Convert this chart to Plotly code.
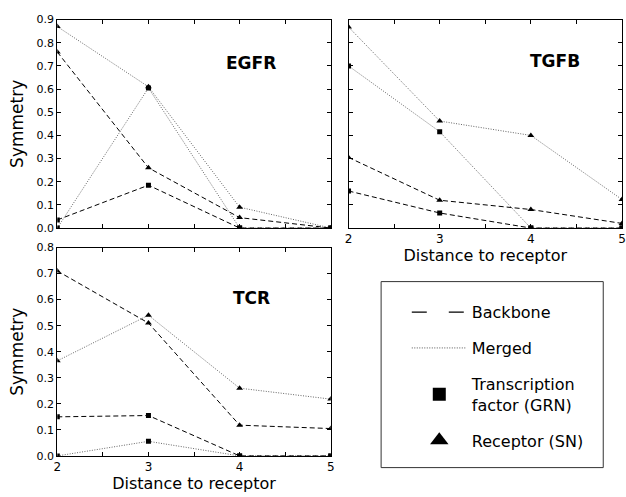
import plotly.graph_objects as go

# ---------------- data ----------------
distance = [2, 3, 4, 5]

egfr_backbone_receptor = [0.76, 0.26, 0.045, 0.0]
egfr_backbone_tf = [0.035, 0.185, 0.0, 0.0]
egfr_merged_receptor = [0.87, 0.61, 0.09, 0.0]
egfr_merged_tf = [0.0, 0.605, 0.0, 0.0]

tgfb_backbone_receptor = [0.305, 0.12, 0.08, 0.02]
tgfb_backbone_tf = [0.16, 0.065, 0.0, 0.0]
tgfb_merged_receptor = [0.868, 0.462, 0.40, 0.123]
tgfb_merged_tf = [0.70, 0.416, 0.0, 0.0]

tcr_backbone_receptor = [0.71, 0.51, 0.118, 0.105]
tcr_backbone_tf = [0.15, 0.155, 0.0, 0.0]
tcr_merged_receptor = [0.365, 0.54, 0.26, 0.218]
tcr_merged_tf = [0.0, 0.056, 0.0, 0.0]

x_tick_vals = [2, 2.5, 3, 3.5, 4, 4.5, 5]
x_tick_text = ["2", "", "3", "", "4", "", "5"]
y_tick_vals_09 = [0, 0.1, 0.2, 0.3, 0.4, 0.5, 0.6, 0.7, 0.8, 0.9]
y_tick_vals_08 = [0, 0.1, 0.2, 0.3, 0.4, 0.5, 0.6, 0.7, 0.8]

panel_names = ["EGFR", "TGFB", "TCR"]
legend_labels = ["Backbone", "Merged", "Transcription<br>factor (GRN)", "Receptor (SN)"]

# ---------------- styles ----------------
FONT = "DejaVu Sans"
W, H = 626, 497
DASH_STYLE = dict(color="black", width=1, dash="5px,3px")
DOT_STYLE = dict(color="#666666", width=1, dash="1px,1.5px")
SQ = dict(symbol="square", size=5, color="black")
TRI = dict(symbol="triangle-up", size=6, color="black")

fig = go.Figure()

panels = [
    ("x", "y", egfr_backbone_receptor, egfr_backbone_tf, egfr_merged_receptor, egfr_merged_tf),
    ("x2", "y2", tgfb_backbone_receptor, tgfb_backbone_tf, tgfb_merged_receptor, tgfb_merged_tf),
    ("x3", "y3", tcr_backbone_receptor, tcr_backbone_tf, tcr_merged_receptor, tcr_merged_tf),
]

for xa, ya, bb_r, bb_tf, mg_r, mg_tf in panels:
    for vals, line, marker in [
        (mg_r, DOT_STYLE, TRI),
        (mg_tf, DOT_STYLE, SQ),
        (bb_r, DASH_STYLE, TRI),
        (bb_tf, DASH_STYLE, SQ),
    ]:
        fig.add_trace(go.Scatter(
            x=distance, y=vals, xaxis=xa, yaxis=ya, mode="lines+markers",
            line=line, marker=marker, showlegend=False, cliponaxis=True,
            hoverinfo="x+y",
        ))

# legend-only entries
legend_specs = [
    dict(mode="lines", line=dict(color="black", width=1.2, dash="15px,22px")),
    dict(mode="lines", line=dict(color="#555555", width=1, dash="1px,1.5px")),
    dict(mode="markers", marker=dict(symbol="square", size=13, color="black")),
    dict(mode="markers", marker=dict(symbol="triangle-up", size=16, color="black")),
]
for i, (name, spec) in enumerate(zip(legend_labels, legend_specs)):
    fig.add_trace(go.Scatter(x=[None], y=[None], name=name, legendgroup=f"g{i}",
                             showlegend=True, **spec))

def px_x(p):
    return p / W

def px_y(p):
    return 1 - p / H

axis_common = dict(
    showline=True, linecolor="black", linewidth=1, mirror="ticks",
    ticks="inside", ticklen=4, tickwidth=1, tickcolor="black",
    showgrid=False, zeroline=False,
)
YTICKFONT = dict(family=FONT, size=11, color="black")
XTICKFONT = dict(family=FONT, size=12, color="black")

xdom_left = [px_x(54), px_x(331)]
xdom_right = [px_x(349), 1.0]
ydom_top = [px_y(228), px_y(14)]
ydom_bot = [px_y(462), px_y(248)]

fig.update_layout(
    width=W, height=H,
    margin=dict(l=0, r=0, t=0, b=0),
    paper_bgcolor="white", plot_bgcolor="white",
    font=dict(family=FONT, color="black"),
    xaxis=dict(domain=xdom_left, anchor="y", range=[2, 5], tickvals=x_tick_vals,
               ticktext=[""] * len(x_tick_vals), tickfont=XTICKFONT, **axis_common),
    yaxis=dict(domain=ydom_top, anchor="x", range=[0, 0.9], tickvals=y_tick_vals_09,
               tickformat=".1f", tickfont=YTICKFONT,
               title=dict(text="Symmetry", font=dict(family=FONT, size=17), standoff=8),
               **axis_common),
    xaxis2=dict(domain=xdom_right, anchor="y2", range=[2, 5], tickvals=x_tick_vals,
                ticktext=x_tick_text, tickfont=XTICKFONT,
                title=dict(text="Distance to receptor", font=dict(family=FONT, size=16), standoff=2),
                **axis_common),
    yaxis2=dict(domain=ydom_top, anchor="x2", range=[0, 0.9], tickvals=y_tick_vals_09,
                ticktext=[""] * len(y_tick_vals_09), tickfont=YTICKFONT, **axis_common),
    xaxis3=dict(domain=xdom_left, anchor="y3", range=[2, 5], tickvals=x_tick_vals,
                ticktext=x_tick_text, tickfont=XTICKFONT,
                title=dict(text="Distance to receptor", font=dict(family=FONT, size=16), standoff=2),
                **axis_common),
    yaxis3=dict(domain=ydom_bot, anchor="x3", range=[0, 0.8], tickvals=y_tick_vals_08,
                tickformat=".1f", tickfont=YTICKFONT,
                title=dict(text="Symmetry", font=dict(family=FONT, size=17), standoff=8),
                **axis_common),
    legend=dict(
        x=px_x(408), y=px_y(297), xanchor="left", yanchor="top",
        bgcolor="rgba(0,0,0,0)", borderwidth=0,
        font=dict(family=FONT, size=16, color="black"),
        traceorder="grouped", tracegroupgap=12, itemwidth=55,
    ),
    showlegend=True,
)

# legend frame
fig.add_shape(type="rect", xref="paper", yref="paper",
              x0=px_x(382), x1=px_x(607), y0=px_y(474), y1=px_y(283),
              line=dict(color="#333333", width=1), fillcolor="rgba(0,0,0,0)")

# panel labels
label_pos = [("x domain", "y domain", 0.71, 0.79), ("x2 domain", "y2 domain", 0.755, 0.80),
             ("x3 domain", "y3 domain", 0.71, 0.76)]
for name, (xr, yr, xx, yy) in zip(panel_names, label_pos):
    fig.add_annotation(text=f"<b>{name}</b>", xref=xr, yref=yr, x=xx, y=yy,
                       showarrow=False, font=dict(family=FONT, size=17, color="black"),
                       xanchor="center", yanchor="middle")

fig.write_html(
    "out.html",
    config={"displayModeBar": False},
    post_script="document.body.style.margin='0';document.body.style.padding='0';"
                "document.body.style.overflow='hidden';",
)
